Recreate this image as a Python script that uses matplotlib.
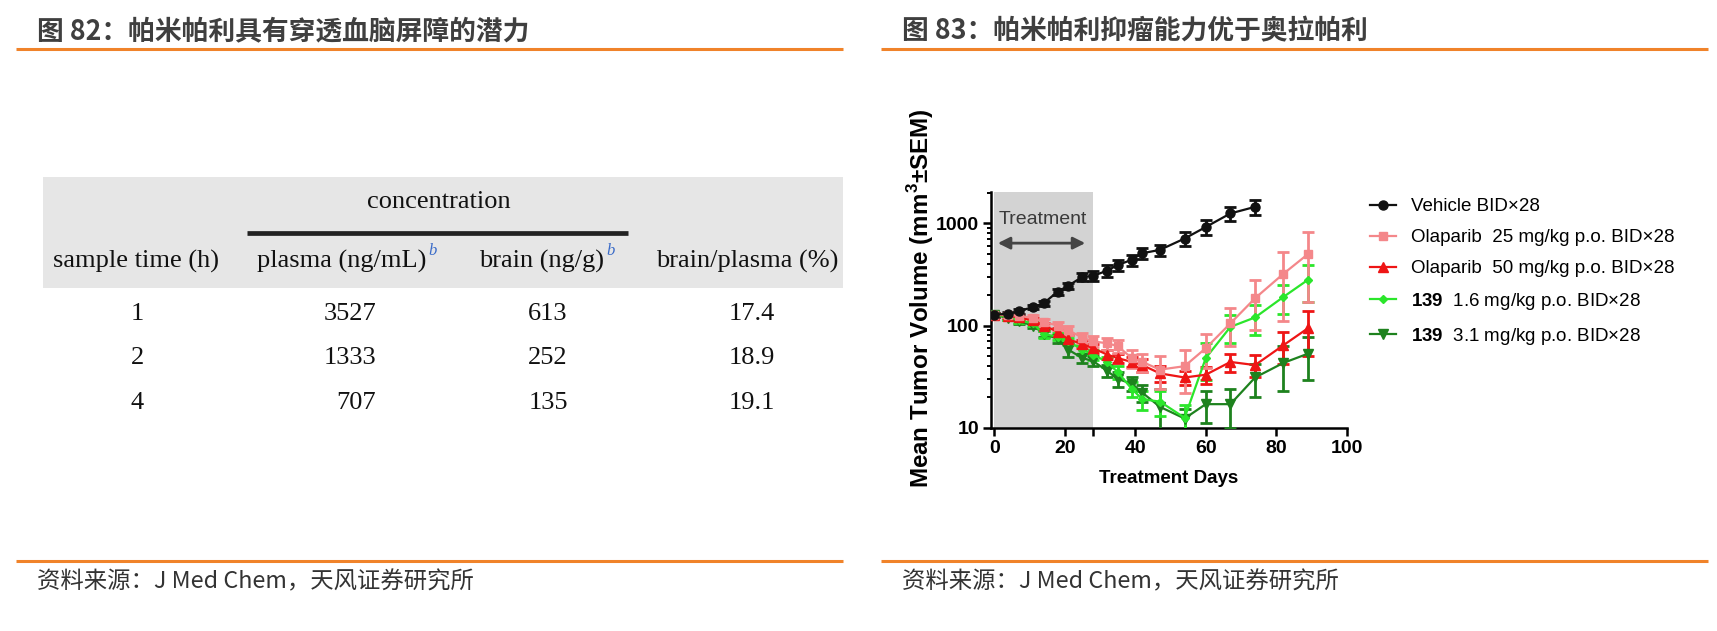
import matplotlib

matplotlib.use("Agg")
import matplotlib.pyplot as plt
from matplotlib.lines import Line2D
from matplotlib.patches import Rectangle
from matplotlib.ticker import FixedLocator, LogLocator, NullFormatter

W, H = 1717, 631

LEFT_TITLE = "图 82：帕米帕利具有穿透血脑屏障的潜力"
RIGHT_TITLE = "图 83：帕米帕利抑瘤能力优于奥拉帕利"
SOURCE = "资料来源：J Med Chem，天风证券研究所"

# fig 82 table
header = ["sample time (h)", "plasma (ng/mL)", "brain (ng/g)", "brain/plasma (%)"]
sample_time = ["1", "2", "4"]
plasma = ["3527", "1333", "707"]
brain = ["613", "252", "135"]
ratio = ["17.4", "18.9", "19.1"]

# fig 83 tumour volume (mm3), mean and SEM
days = [0, 4, 7, 11, 14, 18, 21, 25, 28, 32, 35, 39, 42, 47, 54, 60, 67, 74, 82, 89]
vehicle = [128, 130, 138, 152, 165, 215, 245, 300, 305, 345, 390, 440, 510, 550, 710, 920, 1250, 1450]
vehicle_sem = [6, 6, 7, 8, 9, 15, 18, 30, 35, 45, 50, 55, 65, 70, 110, 150, 200, 250]
ola25 = [128, 127, 125, 118, 108, 100, 90, 76, 70, 67, 63, 48, 44, 37, 40, 60, 105, 185, 320, 500]
ola25_sem = [6, 6, 6, 8, 8, 9, 9, 9, 9, 9, 9, 10, 9, 13, 18, 22, 42, 95, 210, 330]
ola50 = [128, 125, 120, 112, 100, 87, 73, 66, 60, 52, 48, 44, 41, 34, 31, 33, 44, 41, 64, 94]
ola50_sem = [6, 6, 6, 7, 7, 7, 7, 6, 6, 5, 5, 5, 6, 6, 5, 6, 9, 10, 22, 44]
c139_16 = [128, 120, 112, 105, 82, 78, 70, 58, 52, 44, 35, 24, 19, 18, 12.5, 48, 97, 120, 190, 280]
c139_16_sem = [6, 6, 6, 6, 6, 6, 6, 6, 6, 5, 5, 4, 4, 5, 4, 19, 30, 40, 60, 110]
c139_31 = [128, 118, 110, 100, 83, 74, 58, 48, 45, 36, 30, 27, 22, 16, 12.3, 17, 17, 31, 43, 53]
c139_31_sem = [6, 6, 6, 6, 6, 7, 9, 5, 5, 5, 5, 4, 4, 8, 3, 6, 7, 11, 20, 24]

legend_labels = [
    "Vehicle BID×28",
    "Olaparib  25 mg/kg p.o. BID×28",
    "Olaparib  50 mg/kg p.o. BID×28",
    r"$\mathbf{139}$  1.6 mg/kg p.o. BID×28",
    r"$\mathbf{139}$  3.1 mg/kg p.o. BID×28",
]

ORANGE = "#F0832A"
TITLE_GRAY = "#3F3F3F"
CJK = ["Noto Sans CJK SC", "DejaVu Sans"]
SERIF = ["Liberation Serif", "DejaVu Serif"]

plt.rcParams.update(
    {
        "font.family": ["Liberation Sans", "Noto Sans CJK SC", "DejaVu Sans"],
        "mathtext.fontset": "custom",
        "mathtext.rm": "Liberation Sans",
        "mathtext.bf": "Liberation Sans:bold",
    }
)

fig = plt.figure(figsize=(W / 100, H / 100), dpi=100)
bg = fig.add_axes([0, 0, 1, 1])
bg.set_xlim(0, W)
bg.set_ylim(H, 0)
bg.set_axis_off()

# frame: titles, orange rules, sources
for x0, x1, title in [(16, 843, LEFT_TITLE), (881, 1708, RIGHT_TITLE)]:
    bg.text(x0 + 21, 31, title, fontsize=19.3, fontweight="bold", color=TITLE_GRAY,
            family=CJK, ha="left", va="center")
    bg.plot([x0, x1], [49, 49], color=ORANGE, lw=2.2, solid_capstyle="butt")
    bg.plot([x0, x1], [561, 561], color=ORANGE, lw=2.2, solid_capstyle="butt")
    bg.text(x0 + 21, 582, SOURCE, fontsize=16.8, color="#333333", family=CJK,
            ha="left", va="center")

# ---- table ----
bg.add_patch(Rectangle((43, 177), 800, 111, facecolor="#E6E6E6", edgecolor="none"))
tkw = dict(fontsize=19, family=SERIF, color="#111111", va="baseline")
bg.text(439, 208, "concentration", ha="center", **tkw)
bg.plot([247, 628], [232.5, 232.5], color="#222222", lw=3.4, solid_capstyle="butt")

head_base = 268
bg.text(136, head_base, header[0], ha="center", **tkw)
t_pl = bg.text(257, head_base, header[1], ha="left", **tkw)
t_br = bg.text(479, head_base, header[2], ha="left", **tkw)
bg.text(747, head_base, header[3], ha="center", **tkw)

renderer = fig.canvas.get_renderer()
inv = bg.transData.inverted()
for t in (t_pl, t_br):
    bb = t.get_window_extent(renderer)
    xr, _ = inv.transform((bb.x1, bb.y1))
    bg.text(xr + 2, head_base - 13, "b", fontsize=12, style="italic", family=SERIF,
            color="#3A6BC8", ha="left", va="baseline")

row0, row_h = 320, 44.5
for i in range(len(sample_time)):
    y = row0 + i * row_h
    bg.text(137, y, sample_time[i], ha="center", **tkw)
    bg.text(376, y, plasma[i], ha="right", **tkw)
    bg.text(548, y, brain[i], ha="center", **tkw)
    bg.text(752, y, ratio[i], ha="center", **tkw)

# ---- tumour growth chart ----
ax = fig.add_axes([990.8 / W, (H - 427.7) / H, 355.9 / W, 236 / H])
ax.set_yscale("log")
ax.set_xlim(-1, 100)
ax.set_ylim(10, 2040)
ax.axvspan(0, 28, color="#D3D3D3", lw=0, zorder=0)

series = [
    (days, c139_31, c139_31_sem, "#1E821E", "v", 6.5),
    (days, c139_16, c139_16_sem, "#2BE62B", "D", 4.5),
    (days, ola50, ola50_sem, "#EE1515", "^", 6.5),
    (days, ola25, ola25_sem, "#F4878A", "s", 6),
    (days[: len(vehicle)], vehicle, vehicle_sem, "#111111", "o", 6.5),
]
handles = {}
for x, y, e, color, marker, ms in series:
    ax.errorbar(x, y, yerr=e, color=color, marker=marker, ms=ms, mec=color,
                lw=1.6, elinewidth=2.0, capsize=4.5, capthick=2.0, zorder=3)
    handles[marker] = Line2D([], [], color=color, marker=marker, ms=ms, mec=color, lw=1.6)

for side in ("top", "right"):
    ax.spines[side].set_visible(False)
for side in ("left", "bottom"):
    ax.spines[side].set_linewidth(1.8)

ax.xaxis.set_major_locator(FixedLocator([0, 20, 40, 60, 80, 100]))
ax.xaxis.set_minor_locator(FixedLocator([28]))
ax.yaxis.set_major_locator(FixedLocator([10, 100, 1000]))
ax.yaxis.set_minor_locator(LogLocator(base=10, subs=range(2, 10)))
ax.yaxis.set_minor_formatter(NullFormatter())
ax.set_yticklabels(["10", "100", "1000"])
ax.tick_params(axis="both", which="major", length=5.5, width=1.8, labelsize=14, pad=3)
ax.tick_params(axis="x", which="minor", length=5.5, width=1.8)
ax.tick_params(axis="y", which="minor", length=3.2, width=1.4)
for lab in ax.get_xticklabels() + ax.get_yticklabels():
    lab.set_fontweight("bold")

ax.text(13.7, 1080, "Treatment", fontsize=14, color="#3A3A3A", ha="center", va="center")
ax.annotate("", xy=(1.0, 640), xytext=(25.8, 640),
            arrowprops=dict(arrowstyle="<|-|>", color="#444444", lw=2.0, mutation_scale=18,
                            shrinkA=0, shrinkB=0))

ax.set_xlabel("Treatment Days", fontsize=13.5, fontweight="bold", labelpad=10)
bg.text(921, 298, r"Mean Tumor Volume (mm$^\mathbf{3}$±SEM)", rotation=90, fontsize=17.4,
        fontweight="bold", ha="center", va="center")

order = ["o", "s", "^", "D", "v"]
fig.legend([handles[m] for m in order], legend_labels, loc="upper left",
           bbox_to_anchor=(1370 / W, 1 - 198 / H), frameon=False, fontsize=13.5,
           handlelength=1.4, handletextpad=0.8, labelspacing=0.74, borderaxespad=0,
           borderpad=0)

fig.savefig("out.png", dpi=100)
